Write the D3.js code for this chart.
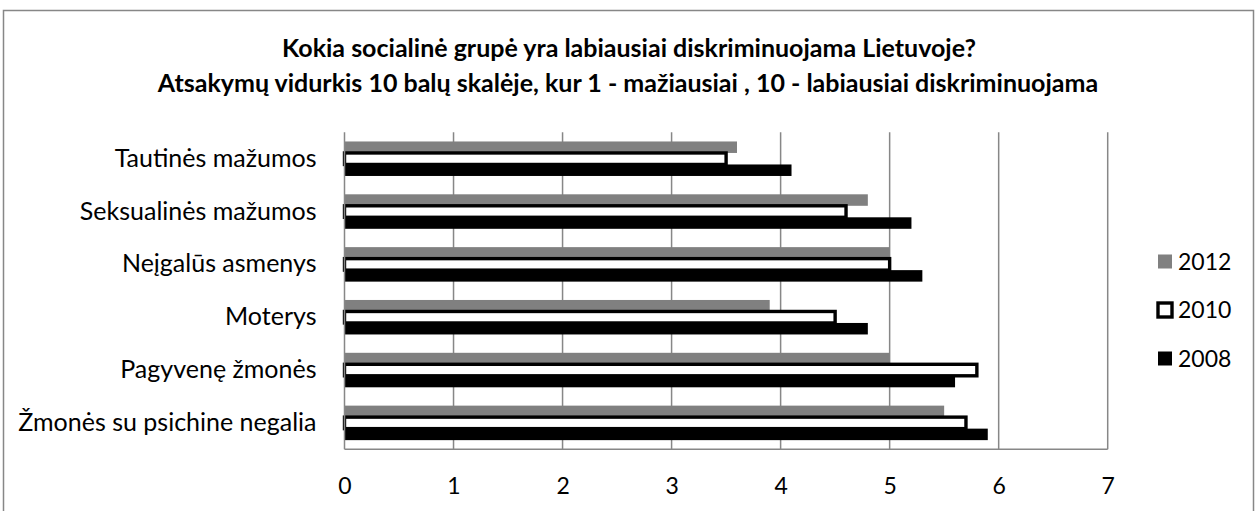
<!DOCTYPE html>
<html>
<head>
<meta charset="utf-8">
<script src="https://cdnjs.cloudflare.com/ajax/libs/d3/7.8.5/d3.min.js"></script>
<style>
  body { margin: 0; background: #fff; }
  svg { display: block; font-family: Lato, "Open Sans", sans-serif; }
</style>
</head>
<body>
<div id="chart"></div>
<script>
/* data */
var categories = ["Tautinės mažumos", "Seksualinės mažumos", "Neįgalūs asmenys",
                  "Moterys", "Pagyvenę žmonės", "Žmonės su psichine negalia"];
var years = ["2012", "2010", "2008"];
var values2012 = [3.6, 4.8, 5.0, 3.9, 5.0, 5.5];
var values2010 = [3.5, 4.6, 5.0, 4.5, 5.8, 5.7];
var values2008 = [4.1, 5.2, 5.3, 4.8, 5.6, 5.9];
var xTicks = [0, 1, 2, 3, 4, 5, 6, 7];
var titleText = "Kokia socialinė grupė yra labiausiai diskriminuojama Lietuvoje?";
var subtitleText = "Atsakymų vidurkis 10 balų skalėje, kur 1 - mažiausiai , 10 - labiausiai diskriminuojama";

var seriesValues = { "2012": values2012, "2010": values2010, "2008": values2008 };

var width = 1258, height = 511;
var plot = { left: 344.5, right: 1107.7, top: 132.3, bottom: 449.3 };
var gridColor = "#878787";

var svg = d3.select("#chart").append("svg")
    .attr("width", width)
    .attr("height", height);

// chart area border
svg.append("rect")
    .attr("x", 3.5).attr("y", 10.5)
    .attr("width", 1250).attr("height", 520)
    .attr("fill", "#fff")
    .attr("stroke", gridColor)
    .attr("stroke-width", 1.5);

// titles
svg.append("text")
    .attr("x", 629).attr("y", 57)
    .attr("text-anchor", "middle")
    .style("font-weight", "bold")
    .style("font-size", "25px")
    .text(titleText);
svg.append("text")
    .attr("x", 628).attr("y", 92)
    .attr("text-anchor", "middle")
    .style("font-weight", "bold")
    .style("font-size", "25px")
    .text(subtitleText);

var x = d3.scaleLinear().domain([0, 7]).range([plot.left, plot.right]);

var y = d3.scaleBand()
    .domain(categories)
    .range([plot.top, plot.bottom])
    .paddingInner(0.347)
    .paddingOuter(0.1735);

var yInner = d3.scaleBand()
    .domain(years)
    .range([0, y.bandwidth()]);

// vertical gridlines
svg.append("g")
    .selectAll("line")
    .data(xTicks.slice(1))
    .enter()
    .append("line")
    .attr("x1", function(d) { return x(d); })
    .attr("x2", function(d) { return x(d); })
    .attr("y1", plot.top)
    .attr("y2", plot.bottom)
    .attr("stroke", gridColor)
    .attr("stroke-width", 1.5);

// bars
var groups = svg.append("g")
    .selectAll("g")
    .data(categories)
    .enter()
    .append("g")
    .attr("transform", function(d) { return "translate(0," + y(d) + ")"; });

groups.selectAll("rect")
    .data(function(c, i) {
      return years.map(function(yr) { return { year: yr, value: seriesValues[yr][i] }; });
    })
    .enter()
    .append("rect")
    .attr("x", x(0))
    .attr("y", function(d) { return yInner(d.year); })
    .attr("width", function(d) { return x(d.value) - x(0); })
    .attr("height", yInner.bandwidth())
    .attr("fill", function(d) {
      if (d.year === "2012") return "#808080";
      if (d.year === "2010") return "#fff";
      return "#000";
    })
    .attr("stroke", function(d) { return d.year === "2010" ? "#000" : "none"; })
    .attr("stroke-width", 3.4);

// axes
var xAxis = svg.append("g")
    .attr("transform", "translate(0," + plot.bottom + ")")
    .call(d3.axisBottom(x).tickValues(xTicks).tickFormat(d3.format("d"))
            .tickSize(0).tickPadding(28));
xAxis.attr("font-family", null).attr("font-size", null);
xAxis.select(".domain").remove();
xAxis.selectAll("text").style("font-size", "23px").attr("fill", "#000");

var yAxis = svg.append("g")
    .attr("transform", "translate(" + plot.left + ",0)")
    .call(d3.axisLeft(y).tickSize(0).tickPadding(28));
yAxis.attr("font-family", null).attr("font-size", null);
yAxis.select(".domain").remove();
yAxis.selectAll("text").style("font-size", "25px").attr("fill", "#000");

svg.append("line")
    .attr("x1", plot.left).attr("x2", plot.right)
    .attr("y1", plot.bottom).attr("y2", plot.bottom)
    .attr("stroke", gridColor).attr("stroke-width", 1.5);
svg.append("line")
    .attr("x1", plot.left).attr("x2", plot.left)
    .attr("y1", plot.top).attr("y2", plot.bottom)
    .attr("stroke", gridColor).attr("stroke-width", 1.5);

// legend
var legend = svg.append("g")
    .selectAll("g")
    .data(years)
    .enter()
    .append("g")
    .attr("transform", function(d, i) { return "translate(1158," + (261.5 + i * 48.5) + ")"; });

legend.append("rect")
    .attr("x", 0).attr("y", -7)
    .attr("width", 14).attr("height", 14)
    .attr("fill", function(d) {
      if (d === "2012") return "#808080";
      if (d === "2010") return "#fff";
      return "#000";
    })
    .attr("stroke", function(d) { return d === "2010" ? "#000" : "none"; })
    .attr("stroke-width", 3.4);

legend.append("text")
    .attr("x", 20)
    .attr("y", 0)
    .attr("dy", "0.36em")
    .style("font-size", "23px")
    .text(function(d) { return d; });
</script>
</body>
</html>
